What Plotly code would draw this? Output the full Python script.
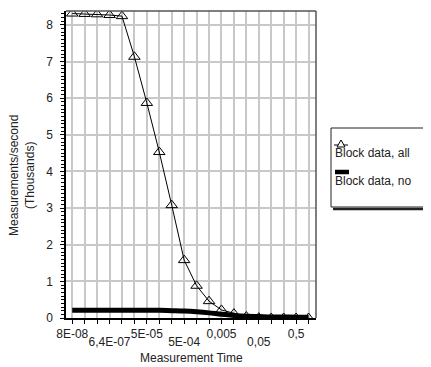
import plotly.graph_objects as go

categories = ["8E-08", "1,6E-07", "3,2E-07", "6,4E-07", "5E-06", "1E-05", "5E-05",
              "1E-04", "2E-04", "5E-04", "1E-03", "2E-03", "0,005", "0,01", "0,02",
              "0,05", "0,1", "0,2", "0,5", "1"]
block_all = [8.31, 8.30, 8.29, 8.27, 8.24, 7.13, 5.87, 4.53, 3.08, 1.58, 0.88, 0.46,
             0.22, 0.12, 0.04, 0.01, 0.0, 0.0, 0.0, 0.0]
block_no = [0.21, 0.21, 0.21, 0.21, 0.21, 0.21, 0.21, 0.21, 0.20, 0.19, 0.17, 0.14,
            0.10, 0.07, 0.05, 0.04, 0.03, 0.03, 0.02, 0.02]
row1_labels = ["8E-08", "5E-05", "0,005", "0,5"]
row2_labels = ["6,4E-07", "5E-04", "0,05"]
ticktext1 = [c if c in row1_labels else "" for c in categories]

FONT = "Liberation Sans, Arial, sans-serif"
FS = 12
OFF = 8  # page body margin
W, H = 431 - OFF, 367 - OFF
L, R, T, B = 66 - OFF, 316 - OFF, 11 - OFF, 318 - OFF


def px(x):
    return (x - OFF - L) / (R - L)


def py(y):
    return (B - (y - OFF)) / (B - T)


fig = go.Figure()
fig.add_trace(go.Scatter(x=categories, y=block_no, mode="lines", xaxis="x2",
                         line=dict(color="black", width=5, shape="spline"),
                         name="Block data, no", showlegend=False))
fig.add_trace(go.Scatter(x=categories, y=block_all, mode="lines+markers",
                         line=dict(color="black", width=1),
                         marker=dict(symbol="triangle-up-open", size=10, color="black",
                                     line=dict(width=1)),
                         name="Block data, all", showlegend=False))

shapes = [
    dict(type="line", xref="paper", yref="paper", x0=0, x1=1, y0=1, y1=1,
         line=dict(color="#555", width=1.5)),
    dict(type="line", xref="paper", yref="paper", x0=1, x1=1, y0=0, y1=1,
         line=dict(color="#555", width=1.5)),
    dict(type="rect", xref="paper", yref="paper", x0=px(331), x1=px(434),
         y0=py(207), y1=py(128), line=dict(color="#222", width=1), fillcolor="white"),
    dict(type="line", xref="paper", yref="paper", x0=px(333), x1=px(434),
         y0=py(209), y1=py(209), line=dict(color="#222", width=2.5)),
    dict(type="line", xref="paper", yref="paper", x0=px(334), x1=px(348),
         y0=py(145), y1=py(145), line=dict(color="black", width=1)),
    dict(type="path", xref="paper", yref="paper",
         path=f"M {px(341)},{py(140)} L {px(345)},{py(147)} L {px(337)},{py(147)} Z",
         line=dict(color="black", width=1), fillcolor="white"),
    dict(type="line", xref="paper", yref="paper", x0=px(335), x1=px(349),
         y0=py(172), y1=py(172), line=dict(color="black", width=4.5)),
]

annotations = [
    dict(text="Block data, all", xref="paper", yref="paper", x=px(333), y=py(153),
         xanchor="left", yanchor="middle", showarrow=False,
         font=dict(family=FONT, size=FS, color="#222")),
    dict(text="Block data, no", xref="paper", yref="paper", x=px(333), y=py(181),
         xanchor="left", yanchor="middle", showarrow=False,
         font=dict(family=FONT, size=FS, color="#222")),
    dict(text="Measurements/second<br>(Thousands)", xref="paper", yref="paper",
         x=px(22), y=py(176), textangle=-90, xanchor="center", yanchor="middle",
         showarrow=False, font=dict(family=FONT, size=FS, color="#222")),
    dict(text="Measurement Time", xref="paper", yref="paper", x=px(191), y=py(358),
         xanchor="center", yanchor="middle", showarrow=False,
         font=dict(family=FONT, size=FS, color="#222")),
]

fig.update_layout(
    width=W, height=H,
    margin=dict(l=L, r=W - R, t=T, b=H - B),
    plot_bgcolor="white", paper_bgcolor="white",
    font=dict(family=FONT, size=FS, color="#222"),
    shapes=shapes, annotations=annotations,
    showlegend=False,
    xaxis=dict(type="category", categoryorder="array", categoryarray=categories,
               range=[-0.5, 19.6], tickmode="array", tickvals=categories,
               ticktext=ticktext1, showgrid=True, gridcolor="#c8c8c8", gridwidth=1.5,
               showline=True, linecolor="black", linewidth=1.5,
               ticks="outside", ticklen=4, tickcolor="black", tickangle=0,
               zeroline=False),
    xaxis2=dict(type="category", categoryorder="array", categoryarray=categories,
                matches="x", overlaying="x", anchor="y", side="bottom",
                tickmode="array", tickvals=row2_labels, ticktext=row2_labels,
                showgrid=False, showline=False, ticks="", tickangle=0,
                ticklabelstandoff=15, zeroline=False),
    yaxis=dict(range=[0, 8.38], dtick=1, tick0=0, showgrid=True, gridcolor="#c8c8c8",
               gridwidth=1.5, showline=True, linecolor="black", linewidth=1.5,
               ticks="outside", ticklen=4, tickcolor="black", zeroline=False,
               ticklabelstandoff=5,
               minor=dict(dtick=0.1, ticks="outside", ticklen=3, tickcolor="black",
                          showgrid=False)),
)

fig.write_html("out.html")
